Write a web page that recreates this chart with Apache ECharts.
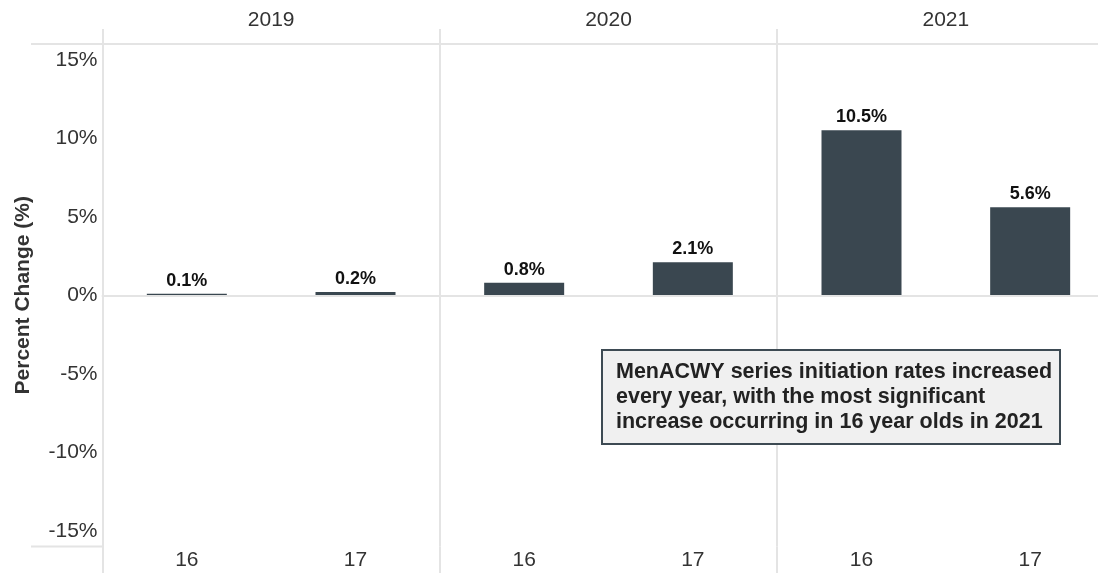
<!DOCTYPE html>
<html>
<head>
<meta charset="utf-8">
<script src="https://cdn.jsdelivr.net/npm/echarts@6/dist/echarts.min.js"></script>
<style>
html,body{margin:0;padding:0;background:#fff;}
#chart{width:1098px;height:573px;}
</style>
</head>
<body>
<div id="chart"></div>
<script>
const ages = ['16', '17', '16', '17', '16', '17'];
const years = ['2019', '2020', '2021'];
const values = [0.1, 0.2, 0.8, 2.1, 10.5, 5.6];
const yTicks = [-15, -10, -5, 0, 5, 10, 15];
const yAxisTitle = 'Percent Change (%)';
const noteLines = [
  'MenACWY series initiation rates increased',
  'every year, with the most significant',
  'increase occurring in 16 year olds in 2021'
];

const FONT = '"Liberation Sans", Arial, Helvetica, sans-serif';
const GRID = '#e4e4e4';
const chart = echarts.init(document.getElementById('chart'), null, {renderer: 'canvas'});

const option = {
  animation: false,
  backgroundColor: '#ffffff',
  textStyle: {fontFamily: FONT},
  grid: {left: 102.5, width: 1012, top: 44, height: 502.5, containLabel: false, outerBoundsMode: 'none'},
  xAxis: [
    {
      type: 'category', data: ages, position: 'bottom',
      axisLine: {show: true, lineStyle: {color: GRID, width: 2}},
      axisTick: {show: false},
      axisLabel: {color: '#333', fontSize: 21, margin: 3, fontFamily: FONT},
      splitLine: {show: false}
    },
    {
      type: 'category', data: years, position: 'top',
      axisLine: {show: true, lineStyle: {color: GRID, width: 2}},
      axisTick: {show: true, length: 15, lineStyle: {color: GRID, width: 2}},
      axisLabel: {color: '#333', fontSize: 21, margin: 13.5, fontFamily: FONT},
      splitLine: {show: true, lineStyle: {color: GRID, width: 2}}
    },
    {
      type: 'category', data: years, position: 'bottom',
      axisLine: {show: false},
      axisTick: {show: true, length: 28, lineStyle: {color: GRID, width: 2}},
      axisLabel: {show: false},
      splitLine: {show: false}
    }
  ],
  yAxis: {
    type: 'value', min: -16, max: 16,
    name: yAxisTitle, nameLocation: 'middle', nameGap: 69, nameRotate: 90,
    nameTextStyle: {fontSize: 21, fontWeight: 'bold', color: '#333', fontFamily: FONT},
    axisLine: {show: true, lineStyle: {color: GRID, width: 2}},
    axisTick: {show: false},
    splitLine: {show: false},
    axisLabel: {
      customValues: yTicks,
      formatter: v => v + '%',
      color: '#333', fontSize: 21, margin: 5, fontFamily: FONT
    }
  },
  series: [{
    type: 'bar',
    data: values,
    xAxisIndex: 0,
    barWidth: 80,
    itemStyle: {color: '#3a4750'},
    label: {
      show: true, position: 'top', distance: 4,
      formatter: p => p.value.toFixed(1) + '%',
      fontSize: 18, fontWeight: 'bold', color: '#111', fontFamily: FONT
    },
    markLine: {
      silent: true, symbol: 'none',
      label: {show: false},
      lineStyle: {color: GRID, width: 2, type: 'solid'},
      data: [{yAxis: 0}]
    },
    z: 3
  }]
};
chart.setOption(option);

const yTop = chart.convertToPixel({yAxisIndex: 0}, 16);
const yBot = chart.convertToPixel({yAxisIndex: 0}, -16);
const xLeft = chart.convertToPixel({xAxisIndex: 1}, years[0]) - (chart.convertToPixel({xAxisIndex: 1}, years[1]) - chart.convertToPixel({xAxisIndex: 1}, years[0])) / 2;

chart.setOption({
  graphic: [
    {type: 'line', shape: {x1: 31, y1: yTop, x2: xLeft, y2: yTop}, style: {stroke: GRID, lineWidth: 2}, silent: true},
    {type: 'line', shape: {x1: 31, y1: yBot, x2: xLeft, y2: yBot}, style: {stroke: GRID, lineWidth: 2}, silent: true},
    {
      type: 'group', left: 601, top: 349, z: 10,
      children: [
        {type: 'rect', shape: {x: 0, y: 0, width: 458, height: 94}, style: {fill: '#f0f0f0', stroke: '#3d4a53', lineWidth: 2}},
        {type: 'text', x: 14, y: 10, style: {
          text: noteLines.join('\n'), fill: '#222', font: 'bold 21.5px ' + FONT,
          lineHeight: 25, verticalAlign: 'top', align: 'left'
        }}
      ]
    }
  ]
});
</script>
</body>
</html>
